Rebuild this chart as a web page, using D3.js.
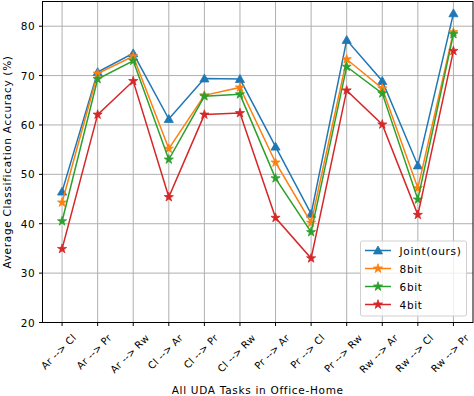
<!DOCTYPE html>
<html>
<head>
<meta charset="utf-8">
<script src="https://cdn.jsdelivr.net/npm/d3@7"></script>
<style>
  body { margin: 0; background: #fff; }
  svg text { font-family: "DejaVu Sans", sans-serif; fill: #000; font-size: 10.5px; letter-spacing: 0.7px; }
  svg text.xtick { font-size: 10px; letter-spacing: 0.2px; }
</style>
</head>
<body>
<svg id="chart" width="474" height="396"></svg>
<script>
// tasks on the x axis
var tasks = ["Ar --> Cl", "Ar --> Pr", "Ar --> Rw", "Cl --> Ar", "Cl --> Pr", "Cl --> Rw",
             "Pr --> Ar", "Pr --> Cl", "Pr --> Rw", "Rw --> Ar", "Rw --> Cl", "Rw --> Pr"];

var joint = [46.5, 70.7, 74.5, 61.2, 69.4, 69.3, 55.6, 42.0, 77.2, 68.9, 51.8, 82.6];
var bit8  = [44.3, 70.4, 73.9, 55.2, 66.0, 67.6, 52.4, 40.2, 73.3, 67.4, 47.2, 78.8];
var bit6  = [40.5, 69.3, 73.0, 53.0, 65.8, 66.2, 49.2, 38.3, 71.8, 66.4, 44.9, 78.4];
var bit4  = [34.9, 62.1, 68.9, 45.4, 62.1, 62.4, 41.2, 33.0, 67.0, 60.1, 41.8, 75.0];

var yTicks = [20, 30, 40, 50, 60, 70, 80];

var series = [
    { name: "Joint(ours)", values: joint, color: "#1f77b4", marker: d3.symbolTriangle },
    { name: "8bit", values: bit8, color: "#ff7f0e", marker: d3.symbolStar },
    { name: "6bit", values: bit6, color: "#2ca02c", marker: d3.symbolStar },
    { name: "4bit", values: bit4, color: "#d62728", marker: d3.symbolStar }
];

var plotLeft = 42.5, plotRight = 473, plotTop = 1.5, plotBottom = 322.5;

var svg = d3.select("#chart");

var x = d3.scaleLinear().domain([-0.55, tasks.length - 1 + 0.55]).range([plotLeft, plotRight]);
var y = d3.scaleLinear().domain([20, 85]).range([plotBottom, plotTop]);

function markerSize(m) { return m === d3.symbolTriangle ? 36 : 26; }
function markerShift(m) { return m === d3.symbolTriangle ? 0.8 : 0; }

// grid lines
var grid = svg.append("g");
tasks.forEach(function(t, i) {
    grid.append("line")
        .attr("x1", x(i)).attr("x2", x(i))
        .attr("y1", plotTop).attr("y2", plotBottom)
        .style("stroke", "#b0b0b0").style("stroke-width", 1);
});
yTicks.forEach(function(v) {
    grid.append("line")
        .attr("x1", plotLeft).attr("x2", plotRight)
        .attr("y1", y(v)).attr("y2", y(v))
        .style("stroke", "#b0b0b0").style("stroke-width", 1);
});

// lines + markers
var line = d3.line()
    .x(function(d, i) { return x(i); })
    .y(function(d) { return y(d); });

series.forEach(function(s) {
    svg.append("path")
        .attr("d", line(s.values))
        .style("fill", "none")
        .style("stroke", s.color)
        .style("stroke-width", 1.5);
    s.values.forEach(function(v, i) {
        svg.append("path")
            .attr("d", d3.symbol().type(s.marker).size(markerSize(s.marker))())
            .attr("transform", "translate(" + x(i) + "," + (y(v) + markerShift(s.marker)) + ")")
            .style("fill", s.color)
            .style("stroke", s.color)
            .style("stroke-width", 0.8);
    });
});

// frame
svg.append("rect")
    .attr("x", plotLeft).attr("y", plotTop)
    .attr("width", plotRight - plotLeft).attr("height", plotBottom - plotTop)
    .style("fill", "none").style("stroke", "#000").style("stroke-width", 1);

// y ticks
yTicks.forEach(function(v) {
    svg.append("line")
        .attr("x1", plotLeft - 3.5).attr("x2", plotLeft)
        .attr("y1", y(v)).attr("y2", y(v))
        .style("stroke", "#000");
    svg.append("text")
        .attr("x", plotLeft - 7).attr("y", y(v))
        .attr("text-anchor", "end")
        .attr("dominant-baseline", "central")
        .text(v);
});

// x ticks, rotated 45 and roughly centred under the tick like matplotlib
tasks.forEach(function(t, i) {
    svg.append("line")
        .attr("x1", x(i)).attr("x2", x(i))
        .attr("y1", plotBottom).attr("y2", plotBottom + 3.5)
        .style("stroke", "#000");
    var lbl = svg.append("text")
        .attr("class", "xtick")
        .attr("text-anchor", "middle")
        .attr("dominant-baseline", "central")
        .text(t);
    var w = lbl.node().getComputedTextLength();
    var h = 10;
    var cy = plotBottom + 10 + (w + h) / (2 * Math.SQRT2);
    lbl.attr("transform", "translate(" + (x(i) - 3.5) + "," + cy + ") rotate(-45)");
});

// axis labels
svg.append("text")
    .attr("x", (plotLeft + plotRight) / 2).attr("y", 390)
    .attr("text-anchor", "middle")
    .attr("dominant-baseline", "central")
    .text("All UDA Tasks in Office-Home");

svg.append("text")
    .attr("transform", "translate(7," + ((plotTop + plotBottom) / 2) + ") rotate(-90)")
    .attr("text-anchor", "middle")
    .attr("dominant-baseline", "central")
    .text("Average Classification Accuracy (%)");

// legend
var legend = svg.append("g");
legend.append("rect")
    .attr("x", 360.5).attr("y", 241).attr("width", 106).attr("height", 75)
    .attr("rx", 2)
    .style("fill", "#fff").style("fill-opacity", 0.8)
    .style("stroke", "#d0d0d0").style("stroke-width", 1);

series.forEach(function(s, i) {
    var ly = 250.5 + i * 18;
    legend.append("line")
        .attr("x1", 365).attr("x2", 391)
        .attr("y1", ly).attr("y2", ly)
        .style("stroke", s.color).style("stroke-width", 1.5);
    legend.append("path")
        .attr("d", d3.symbol().type(s.marker).size(markerSize(s.marker))())
        .attr("transform", "translate(378," + (ly + markerShift(s.marker)) + ")")
        .style("fill", s.color).style("stroke", s.color).style("stroke-width", 0.8);
    legend.append("text")
        .attr("x", 399.5).attr("y", ly)
        .attr("dominant-baseline", "central")
        .text(s.name);
});
</script>
</body>
</html>
